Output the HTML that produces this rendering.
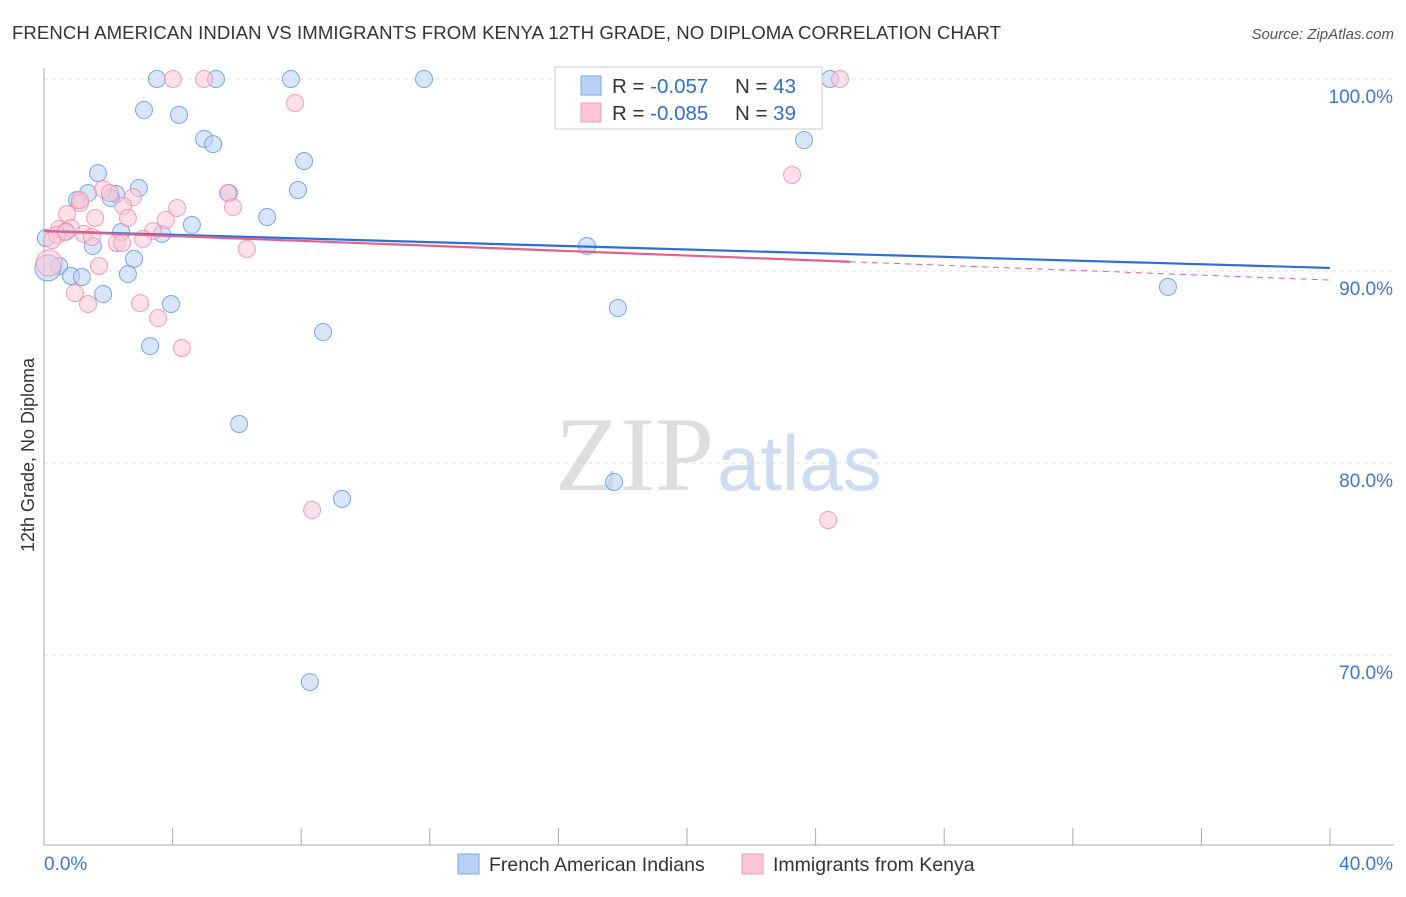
<!DOCTYPE html>
<html><head><meta charset="utf-8"><style>
body{margin:0;background:#fff;width:1406px;height:892px;overflow:hidden;font-family:"Liberation Sans",sans-serif}
</style></head><body>
<svg id="c" width="1406" height="892" font-family="Liberation Sans, sans-serif">
<text x="12" y="39" font-size="18.6" fill="#333" textLength="989">FRENCH AMERICAN INDIAN VS IMMIGRANTS FROM KENYA 12TH GRADE, NO DIPLOMA CORRELATION CHART</text>
<text x="1394" y="39" font-size="15" fill="#555" font-style="italic" text-anchor="end">Source: ZipAtlas.com</text>
<text transform="translate(34,455) rotate(-90)" font-size="18" fill="#333" text-anchor="middle">12th Grade, No Diploma</text>
<text x="555" y="490" font-size="106" fill="#ddd" font-family="Liberation Serif, serif">ZIP</text>
<text x="717" y="490" font-size="78" fill="#cfdcf0">atlas</text>
<g id="grid"></g><g id="axes"></g><g id="pts"></g><g id="trend"></g>
<g>
<rect x="555" y="67" width="267" height="62" fill="#fff" stroke="#ccc"/>
<rect x="581" y="76" width="20" height="19" fill="#b9d2f4" stroke="#7aa6e6"/>
<rect x="581" y="103" width="20" height="19" fill="#fbc6d6" stroke="#ee9ab5"/>
<text x="612" y="93" font-size="20.5" fill="#333">R = <tspan fill="#2f6fd1">-0.057</tspan><tspan x="735">N = </tspan><tspan fill="#2f6fd1">43</tspan></text>
<text x="612" y="120" font-size="20.5" fill="#333">R = <tspan fill="#2f6fd1">-0.085</tspan><tspan x="735">N = </tspan><tspan fill="#2f6fd1">39</tspan></text>
</g>
<g>
<rect x="458" y="854" width="21" height="20" fill="#b9d2f4" stroke="#7aa6e6"/>
<text x="489" y="871" font-size="19.5" fill="#333">French American Indians</text>
<rect x="742" y="854" width="21" height="20" fill="#fbc6d6" stroke="#ee9ab5"/>
<text x="773" y="871" font-size="19.5" fill="#333">Immigrants from Kenya</text>
</g>
</svg>
<script>
const blueX=[3.51,5.35,7.68,11.82,24.45,3.11,4.20,4.98,5.26,23.64,1.68,8.09,1.37,7.90,2.95,2.24,1.03,2.08,5.75,6.94,4.60,2.40,3.67,0.68,1.52,16.89,0.47,2.80,0.84,1.18,2.61,34.96,1.84,3.95,17.85,8.68,3.30,6.07,17.73,9.27,8.27,0.12,0.06];
const blueY=[100,100,100,100,100,98.39,98.13,96.88,96.61,96.82,95.10,95.73,94.06,94.22,94.32,94.01,93.70,93.80,94.06,92.81,92.40,92.03,91.93,92.08,91.30,91.30,90.26,90.63,89.74,89.69,89.84,89.17,88.80,88.28,88.07,86.82,86.09,82.03,79.01,78.13,68.59,90.16,91.72];
const pinkX=[4.01,4.98,24.76,7.81,23.27,5.72,1.84,2.77,1.12,2.46,5.88,4.14,0.72,1.59,2.61,3.79,0.47,0.84,1.24,0.40,1.49,3.39,3.08,2.27,2.43,6.31,1.71,0.96,1.37,2.99,3.55,4.29,8.34,24.39,0.16,0.25,0.68,1.12,2.05];
const pinkY=[100,100,100,98.75,95.0,94.06,94.27,93.85,93.54,93.39,93.33,93.28,92.97,92.76,92.76,92.66,92.19,92.24,91.93,91.88,91.77,92.08,91.67,91.46,91.46,91.15,90.26,88.85,88.28,88.33,87.55,85.99,77.55,77.03,90.42,91.61,92.03,93.70,94.06];
const yTicks=[100,90,80,70];
const yTickLabels=["100.0%","90.0%","80.0%","70.0%"];
const xTicks=[0,4,8,12,16,20,24,28,32,36,40];
const blueTrend=[92.08,90.16];
const pinkTrend=[92.08,89.53];
const pinkSolidEnd=25.07;
const NS="http://www.w3.org/2000/svg";
const X=v=>44+v/40*1286, Y=v=>79+(100-v)*19.2;
function mk(tag,attrs,parent){const e=document.createElementNS(NS,tag);for(const k in attrs)e.setAttribute(k,attrs[k]);document.getElementById(parent).appendChild(e);return e;}
yTicks.forEach((t,i)=>{
 const l=mk('line',{x1:44,x2:1394,y1:Y(t),y2:Y(t),stroke:'#ddd','stroke-dasharray':'4,4'},'grid');
 
 
 const tx=mk('text',{x:1393,y:Y(t)+24,'font-size':19,fill:'#3b78d6','text-anchor':'end'},'grid');
 tx.textContent=yTickLabels[i];
 
 
});
const ax=mk('line',{x1:44,x2:44,y1:68,y2:845,stroke:'#aaa'},'axes');


const bx=mk('line',{x1:44,x2:1394,y1:845,y2:845,stroke:'#aaa'},'axes');


xTicks.forEach(t=>{
 const l=mk('line',{x1:X(t),x2:X(t),y1:828,y2:845,stroke:'#aaa'},'axes');
 
 
});
const xl0=mk('text',{x:44,y:870,'font-size':19,fill:'#3b78d6'},'axes');xl0.textContent=xTicks[0].toFixed(1)+'%';


const xl1=mk('text',{x:1393,y:870,'font-size':19,fill:'#3b78d6','text-anchor':'end'},'axes');xl1.textContent=xTicks[xTicks.length-1].toFixed(1)+'%';


function pts(xs,ys,fill,stroke,name){xs.forEach((v,i)=>{
 const big=(v<0.2 && ys[i]<91);
 const c=mk('circle',{cx:X(v),cy:Y(ys[i]),r:big?13:8.5,fill:fill,'fill-opacity':0.55,stroke:stroke,'stroke-opacity':0.8,'stroke-width':1},'pts');
 
 
});}
pts(blueX,blueY,'#b9d2f4','#5b93e0','point-french-american-indian');
pts(pinkX,pinkY,'#fbc6d6','#ea8aab','point-immigrants-from-kenya');
const bt=mk('line',{x1:X(0),y1:Y(blueTrend[0]),x2:X(40),y2:Y(blueTrend[1]),stroke:'#2c6fd6','stroke-width':2.2},'trend');


const py=v=>pinkTrend[0]+(pinkTrend[1]-pinkTrend[0])*v/40;
const pt=mk('line',{x1:X(0),y1:Y(pinkTrend[0]),x2:X(pinkSolidEnd),y2:Y(py(pinkSolidEnd)),stroke:'#e4608c','stroke-width':2.2},'trend');


const pd=mk('line',{x1:X(pinkSolidEnd),y1:Y(py(pinkSolidEnd)),x2:X(40),y2:Y(pinkTrend[1]),stroke:'#e4608c','stroke-width':1,'stroke-dasharray':'6,5'},'trend');


</script>
</body></html>
